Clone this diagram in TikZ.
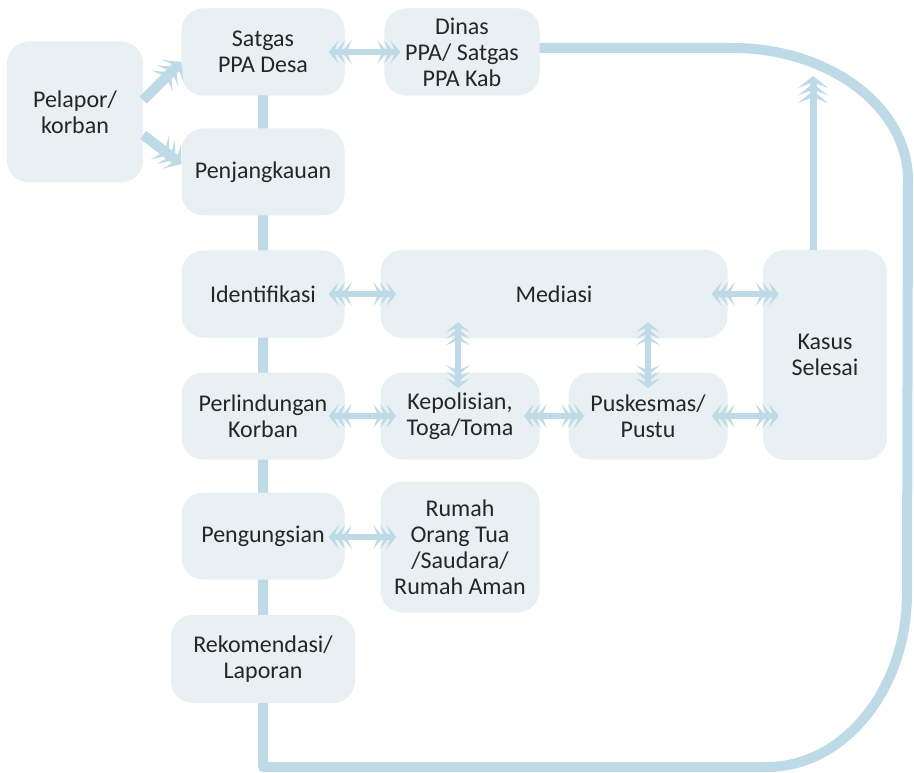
\documentclass[tikz,border=0pt]{standalone}
\usepackage{fontspec}
\setmainfont{Carlito}
\usetikzlibrary{arrows.meta}
\definecolor{boxfill}{HTML}{E8F0F3}
\definecolor{linkblue}{HTML}{BEDAE7}
\definecolor{txtgray}{HTML}{262626}

\tikzset{
	stepbox/.style={fill=boxfill, rounded corners=22pt, align=center, text=txtgray, inner sep=0pt, font=\fontsize{24}{26}\selectfont},
	chev/.tip={Stealth[length=10pt,width=24pt,inset=5pt,sep=-3.5pt]Stealth[length=10pt,width=24pt,inset=5pt,sep=-3.5pt]Stealth[length=10pt,width=24pt,inset=5pt]},
	bigchev/.tip={Stealth[length=12pt,width=30pt,inset=6pt,sep=-4.5pt]Stealth[length=12pt,width=30pt,inset=6pt,sep=-4.5pt]Stealth[length=12pt,width=30pt,inset=6pt]},
	biarrow/.style={draw=linkblue, line width=5.5pt, chev-chev, shorten <=-16pt, shorten >=-16pt},
	onearrow/.style={draw=linkblue, line width=10pt, -bigchev},
	uparrow/.style={draw=linkblue, line width=7pt, -bigchev},
	loopline/.style={draw=linkblue, line width=10pt, line join=round, line cap=round}
}

\begin{document}
\begin{tikzpicture}[x=1pt, y=-1pt]
			%%%%% START %%%%%
			\useasboundingbox (0,0) rectangle (914,773);
			
			% flow nodes (positions in px of the page)
			\node[stepbox, minimum width=136pt, minimum height=141pt] (pel) at (75,112) {Pelapor/\\korban};
			\node[stepbox, minimum width=163pt, minimum height=87pt] (sat) at (263,52) {Satgas\\PPA Desa};
			\node[stepbox, minimum width=155pt, minimum height=87pt] (din) at (462,52) {Dinas\\PPA/ Satgas\\PPA Kab};
			
			% the long loop behind the boxes
			\coordinate (loopstart) at (din.east |- 0,48);
			\draw[loopline] (sat.south) -- (sat.south |- 0,767) -- (767,767)
				.. controls (844,767) and (907,689) .. (907,593) -- (908,180)
				.. controls (908,107) and (829,48) .. (733,48) -- (loopstart);
			
			% redraw top boxes over the loop
			\node[stepbox, minimum width=163pt, minimum height=87pt] at (sat) {Satgas\\PPA Desa};
			\node[stepbox, minimum width=155pt, minimum height=87pt] at (din) {Dinas\\PPA/ Satgas\\PPA Kab};
			
			\node[stepbox, minimum width=163pt, minimum height=87pt] (penj) at (263,172) {Penjangkauan};
			\node[stepbox, minimum width=163pt, minimum height=87pt] (idf) at (263,294) {Identifikasi};
			\node[stepbox, minimum width=347pt, minimum height=88pt] (med) at (554,294) {Mediasi};
			\node[stepbox, minimum width=124pt, minimum height=210pt] (kas) at (825,355) {Kasus\\Selesai};
			\node[stepbox, minimum width=163pt, minimum height=87pt] (per) at (263,416) {Perlindungan\\Korban};
			\node[stepbox, minimum width=159pt, minimum height=87pt] (kep) at (460,416) {Kepolisian,\\Toga/Toma};
			\node[stepbox, minimum width=159pt, minimum height=87pt] (pus) at (648,416) {Puskesmas/\\Pustu};
			\node[stepbox, minimum width=163pt, minimum height=87pt] (peng) at (263,536) {Pengungsian};
			\node[stepbox, minimum width=159pt, minimum height=131pt] (rum) at (460,547) {Rumah\\Orang Tua\\/Saudara/\\Rumah Aman};
			\node[stepbox, minimum width=184pt, minimum height=88pt] (rek) at (263,659) {Rekomendasi/\\Laporan};
			
			% arrows
			\draw[onearrow] ([yshift=12pt]pel.east) -- ([yshift=-10pt]sat.west);
			\draw[onearrow] ([yshift=-23pt]pel.east) -- ([yshift=8pt]penj.west);
			
			\draw[biarrow] (sat) -- (din);
			\draw[biarrow] (idf) -- (med);
			\draw[biarrow] (med.east) -- (med.east -| kas.west);
			\draw[biarrow] (per) -- (kep);
			\draw[biarrow] (kep) -- (pus);
			\draw[biarrow] (pus.east) -- (pus.east -| kas.west);
			\draw[biarrow] ([yshift=-1pt]peng.east) -- ([yshift=-1pt]peng.east -| rum.west);
			\draw[biarrow] ([xshift=-2pt]kep.north) -- ([xshift=-2pt]kep.north |- med.south);
			\draw[biarrow] (pus.north) -- (pus.north |- med.south);
			
			\coordinate (kastip) at (813,76);
			\draw[uparrow] (kastip |- kas.north) -- (kastip);
			
			%%%%% END %%%%%
\end{tikzpicture}
\end{document}
